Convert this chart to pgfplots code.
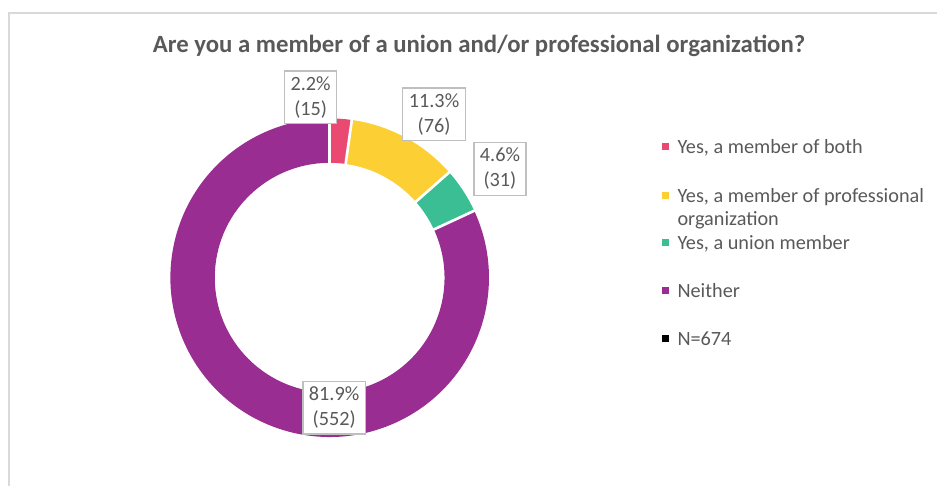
\documentclass[border=0pt]{standalone}
\usepackage{fontspec}
\setmainfont{Carlito}
\usepackage{pgfplots}
\usepackage{pgfplotstable}
\pgfplotsset{compat=1.18}
\definecolor{slice0}{HTML}{EA4A72}
\definecolor{slice1}{HTML}{FCCF35}
\definecolor{slice2}{HTML}{3CBE94}
\definecolor{slice3}{HTML}{9A2D92}
\definecolor{txtgray}{HTML}{595959}
\definecolor{boxgray}{HTML}{BFBFBF}
\definecolor{framegray}{HTML}{D9D9D9}

\pgfplotstableread{
label count
both 15
prof 76
union 31
neither 552
}\donutdata

\begin{document}
\begin{tikzpicture}
% cumulative angles from the data (clockwise from 90 degrees)
\def\total{0}
\pgfplotsforeachungrouped \i in {0,...,3}{%
  \pgfplotstablegetelem{\i}{count}\of\donutdata
  \pgfmathsetmacro\total{\total+\pgfplotsretval}%
}
\def\cum{0}
\pgfplotsforeachungrouped \i in {0,...,3}{%
  \pgfplotstablegetelem{\i}{count}\of\donutdata
  \pgfmathsetmacro\sa{90-360*(\cum/\total)}%
  \pgfmathsetmacro\cum{\cum+\pgfplotsretval}%
  \pgfmathsetmacro\ea{90-360*(\cum/\total)}%
  \expandafter\xdef\csname sa\i\endcsname{\sa}%
  \expandafter\xdef\csname ea\i\endcsname{\ea}%
}
\begin{axis}[
  x=0.75pt, y=0.75pt,
  xmin=0, xmax=938, ymin=0, ymax=487,
  hide axis, clip=false, scale only axis,
  at={(0,0)}, anchor=origin,
]
\path (axis cs:0,0) rectangle (axis cs:938,487);
% frame
\draw[framegray, line width=1.5pt] (axis cs:9,0) -- (axis cs:9,474) -- (axis cs:938,474);
% title
\node[anchor=base, text=txtgray, inner sep=0pt, font=\bfseries\fontsize{18.6}{22}\selectfont]
  at (axis cs:479.5,434) {Are you a member of a union and/or professional organization?};
% slices
\pgfplotsinvokeforeach{0,...,3}{
  \fill[slice#1] (axis cs:330,209) ++(\csname sa#1\endcsname:119.6pt)
    arc[start angle=\csname sa#1\endcsname, end angle=\csname ea#1\endcsname, radius=119.6pt]
    -- ++(\csname ea#1\endcsname:-33.35pt)
    arc[start angle=\csname ea#1\endcsname, end angle=\csname sa#1\endcsname, radius=86.25pt]
    -- cycle;
}
\pgfplotsinvokeforeach{0,...,3}{
  \draw[white, line width=2pt] (axis cs:330,209) ++(\csname sa#1\endcsname:84pt)
    -- ++(\csname sa#1\endcsname:38pt);
}
% data labels
\tikzset{lbl/.style={draw=boxgray, line width=0.9pt, fill=white, text=txtgray,
  align=center, inner xsep=4.5pt, inner ysep=4.2pt,
  font=\fontsize{15.2}{18.75}\selectfont}}
\node[lbl] at (axis cs:311,389.5) {2.2\%\\(15)};
\node[lbl] at (axis cs:434.5,372.5) {11.3\%\\(76)};
\node[lbl] at (axis cs:500.5,318) {4.6\%\\(31)};
\node[lbl] at (axis cs:334.5,79) {81.9\%\\(552)};
% legend
\tikzset{lgt/.style={anchor=base west, text=txtgray, inner sep=0pt,
  font=\fontsize{15.2}{18}\selectfont},
  lgs/.style={minimum size=5.25pt, inner sep=0pt}}
\node[lgs, fill=slice0] at (axis cs:666.5,340) {};
\node[lgt] at (axis cs:678,333.5) {Yes, a member of both};
\node[lgs, fill=slice1] at (axis cs:666.5,291) {};
\node[lgt] at (axis cs:678,284.5) {Yes, a member of professional};
\node[lgt] at (axis cs:678,261.5) {organization};
\node[lgs, fill=slice2] at (axis cs:666.5,244) {};
\node[lgt] at (axis cs:678,237.5) {Yes, a union member};
\node[lgs, fill=slice3] at (axis cs:666.5,196) {};
\node[lgt] at (axis cs:678,189.5) {Neither};
\node[lgs, fill=black] at (axis cs:666.5,148) {};
\node[lgt] at (axis cs:678,141.5) {N=674};
\end{axis}
\end{tikzpicture}
\end{document}
